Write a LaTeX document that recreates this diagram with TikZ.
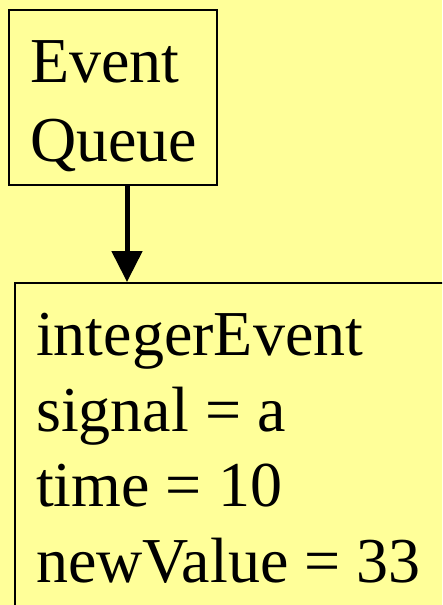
\documentclass[tikz,border=0pt]{standalone}
\usepackage{fontspec}
\setmainfont{Liberation Serif}
\usetikzlibrary{arrows.meta}
\definecolor{paper}{HTML}{FFFF99}
\tikzset{
  box/.style={draw=black, line width=1.6pt, fill=paper, inner sep=0pt, anchor=north west},
  label/.style={anchor=base west, inner sep=0pt, font=\fontsize{64}{75}\selectfont},
  flow/.style={line width=5pt, -{Triangle[width=30pt,length=31pt]}},
}
\begin{document}
\begin{tikzpicture}[x=1pt,y=-1pt]
  \clip (0,0) rectangle (442,605);
  \fill[paper] (0,0) rectangle (442,605);
  % event queue box
  \node[box, minimum width=208pt, minimum height=175pt] (queue) at (8,9) {};
  \node[label] (qline1) at (30,82) {Event};
  \node[label] (qline2) at (30,161) {Queue};
  % event record box, running past the page edges
  \node[box, minimum width=500pt, minimum height=400pt] (event) at (14,282) {};
  \node[label] (eline1) at (36,355) {integerEvent};
  \node[label] (eline2) at (36,431) {signal = a};
  \node[label] (eline3) at (36,506) {time = 10};
  \node[label] (eline4) at (36,582) {newValue = 33};
  % link from the queue to the event
  \coordinate (lane) at (127,0);
  \draw[flow] (queue.south -| lane) -- (event.north -| lane);
\end{tikzpicture}
\end{document}
